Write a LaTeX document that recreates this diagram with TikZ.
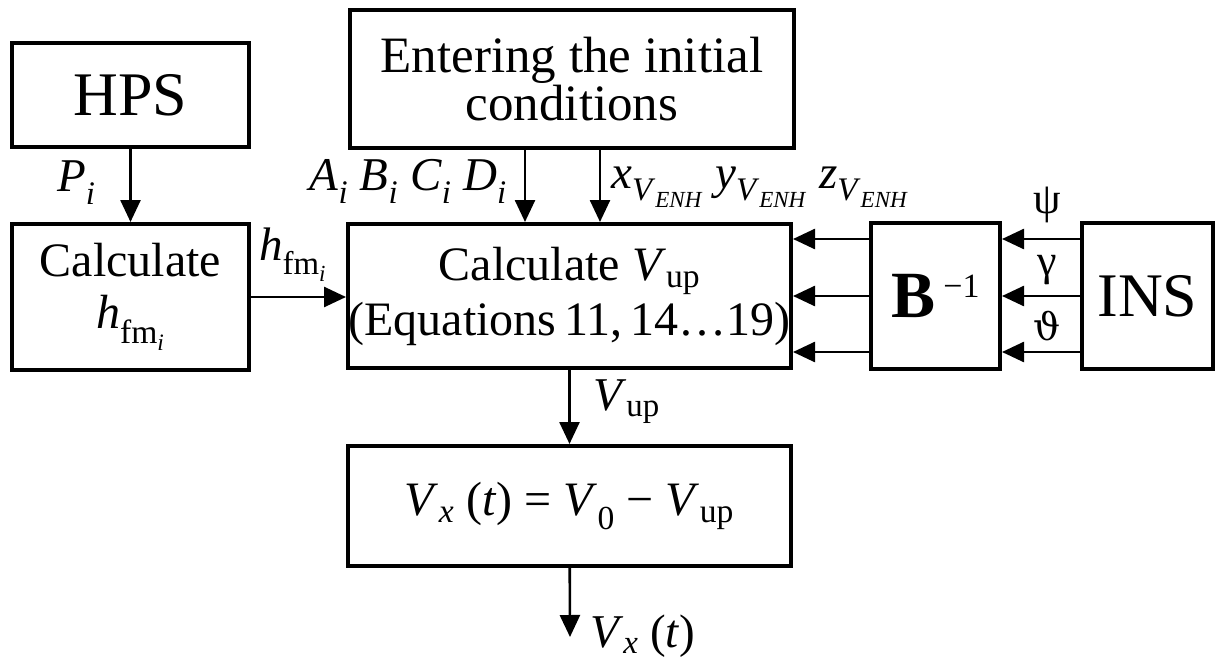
\documentclass[tikz,border=0pt]{standalone}
\usepackage{fontspec}
\setmainfont{Liberation Serif}
\newfontfamily\thetafont{DejaVu Serif}
\usetikzlibrary{arrows.meta, positioning}

\newcommand{\lo}[1]{\textsubscript{#1}}
\newcommand{\boxfont}{\fontsize{48}{55}\selectfont}
\newcommand{\bigfont}{\fontsize{62}{62}\selectfont}
\newcommand{\lblfont}{\fontsize{47}{47}\selectfont}

\begin{document}
\begin{tikzpicture}[x=1pt, y=-1pt,
  blk/.style={draw, line width=4pt, inner sep=0pt, align=center, font=\boxfont},
  lbl/.style={inner sep=0pt, font=\lblfont},
  arr/.style={-{Triangle[length=22pt, width=20pt]}, line width=2.6pt}]
\useasboundingbox (0,0) rectangle (1224,661);
\node[blk, minimum width=237pt, minimum height=104pt, font=\bigfont] (hps) at (130.5,95) {HPS};
\node[blk, minimum width=237pt, minimum height=146pt, below=73pt of hps,
  font=\fontsize{48}{52}\selectfont] (calc) {Calculate\\ \textit{h}\lo{fm\lo{\textit{i}}}};
\node[blk, minimum width=444pt, minimum height=138pt,
  font=\fontsize{51}{48}\selectfont] (init) at (572,79) {Entering the initial\\ conditions};
\node[blk, minimum width=443pt, minimum height=144pt] (vup) at (569.5,296)
  {Calculate \textit{V}\lo{up}\\ (Equations\,11,\,14\dots 19)};
\node[blk, minimum width=129pt, minimum height=146pt, right=76pt of vup] (binv)
  {{\fontsize{66}{66}\selectfont\textbf{B}}\,\raisebox{20pt}{\fontsize{34}{34}\selectfont −1}};
\node[blk, minimum width=131pt, minimum height=146pt, right=78pt of binv, font=\bigfont] (ins) {INS};
\node[blk, minimum width=443pt, minimum height=120pt, below=74pt of vup] (vx)
  {\textit{V}\lo{\textit{x}} (\textit{t}) = \textit{V}\lo{0} − \textit{V}\lo{up}};
\coordinate (out) at (570,637);

% connectors
\draw[arr] (hps) -- (calc);
\draw[arr] (calc.east) -- (calc.east -| vup.west);
\draw[arr] ([xshift=-47pt]init.south) -- ([xshift=-47pt]init.south |- vup.north);
\draw[arr] ([xshift=28pt]init.south) -- ([xshift=28pt]init.south |- vup.north);
\foreach \dy in {57,0,-56} {
  \draw[arr] ([yshift=\dy pt]binv.west) -- ([yshift=\dy pt]binv.west -| vup.east);
  \draw[arr] ([yshift=\dy pt]ins.west) -- ([yshift=\dy pt]ins.west -| binv.east);
}
\draw[arr] (vup) -- (vx);
\draw[arr] (vx) -- (out);

% labels
\node[lbl, anchor=base west] (pi) at (57,191) {\textit{P}\lo{\textit{i}}};
\node[lbl, anchor=base west] (hfm) at (259,260) {\textit{h}\lo{fm\lo{\textit{i}}}};
\node[lbl, anchor=base east] (abcd) at (507,190)
  {\textit{A}\lo{\textit{i}} \textit{B}\lo{\textit{i}} \textit{C}\lo{\textit{i}} \textit{D}\lo{\textit{i}}};
\node[lbl, anchor=base west] (xyz) at (611,188)
  {\textit{x}\lo{\textit{V}\lo{\textit{ENH}}} \textit{y}\lo{\textit{V}\lo{\textit{ENH}}} \textit{z}\lo{\textit{V}\lo{\textit{ENH}}}};
\node[lbl, font=\fontsize{44}{44}\selectfont] (psi) at (1047,205) {ψ};
\node[lbl, font=\fontsize{44}{44}\selectfont] (gam) at (1047,270) {γ};
\node[lbl, font=\fontsize{38}{38}\thetafont] (tht) at (1047,326) {ϑ};
\node[lbl, anchor=base west] (vuplbl) at (593,410) {\textit{V}\lo{up}};
\node[lbl, anchor=base west] (vxlbl) at (590,647) {\textit{V}\lo{\textit{x}} (\textit{t})};
\end{tikzpicture}
\end{document}
